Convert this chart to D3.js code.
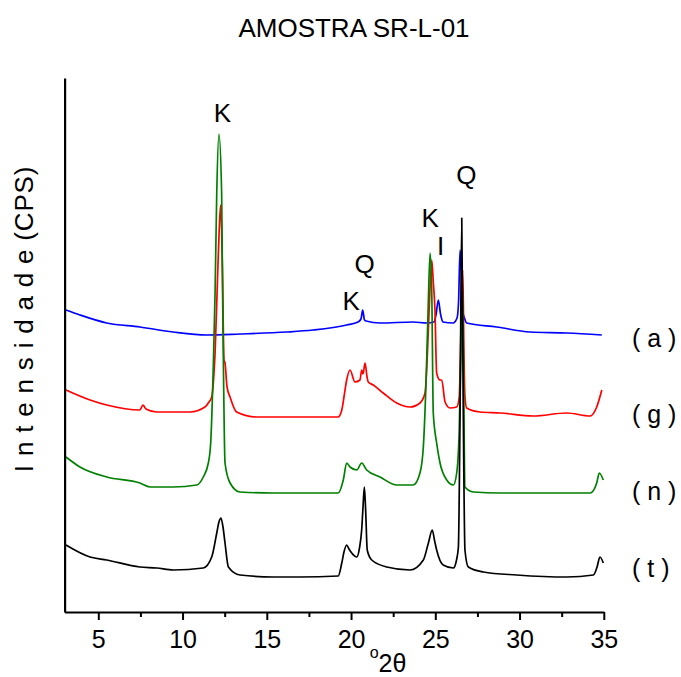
<!DOCTYPE html>
<html>
<head>
<meta charset="utf-8">
<script src="https://cdn.jsdelivr.net/npm/d3@7/dist/d3.min.js"></script>
<style>
  html, body { margin: 0; padding: 0; background: #fff; }
  svg { display: block; }
  text { font-family: "Liberation Sans", Arial, Helvetica, sans-serif; fill: #000; }
</style>
</head>
<body>
<svg id="chart" width="681" height="677"></svg>
<script>
// ---------- DATA (2θ in degrees, intensity in arbitrary CPS units incl. vertical offset) ----------
const aTheta = [3.08,3.91,5.50,7.47,9.43,11.43,13.41,16.18,17.74,19.74,20.41,20.59,20.69,20.80,20.89,21.72,23.68,24.49,24.92,25.04,25.18,25.31,25.46,26.05,26.29,26.38,26.47,26.55,26.64,26.73,26.86,28.64,30.62,32.80,34.88];
const aCounts = [302,297,289,285,280,277,278,280,282,287,290,293,302,292,291,289,290,289,290,297,312,298,290,289,294,310,362,340,300,294,289,285,280,279,277];

const gTheta = [3.08,4.51,5.50,7.47,7.65,7.83,8.47,10.44,11.33,11.57,11.73,11.87,11.93,12.05,12.17,12.26,12.37,12.46,12.52,12.64,12.82,13.21,14.40,16.38,19.23,19.45,19.58,19.74,19.94,20.23,20.53,20.63,20.71,20.83,20.95,21.02,21.32,21.91,22.71,23.50,24.09,24.39,24.51,24.63,24.79,24.88,24.98,25.08,25.28,25.38,25.58,25.87,26.27,26.42,26.52,26.63,26.70,26.76,26.86,27.65,28.84,30.82,32.80,34.19,34.58,34.88];
const gCounts = [222,212,207,202,207,203,200,200,205,210,215,240,259,320,380,407,340,252,249,225,215,200,195,195,195,202,215,232,242,230,232,242,238,249,235,230,227,219,209,205,209,219,250,300,352,330,302,239,232,232,210,204,205,215,280,342,260,215,204,200,199,196,199,196,205,222];

const nTheta = [3.08,3.91,5.50,7.47,8.07,9.45,10.84,11.23,11.53,11.67,11.83,11.93,12.03,12.16,12.32,12.37,12.43,12.52,12.82,13.41,15.39,19.24,19.54,19.74,19.94,20.34,20.63,20.93,21.72,22.71,23.69,24.09,24.29,24.45,24.57,24.69,24.79,24.88,25.08,25.28,25.68,26.07,26.27,26.42,26.52,26.60,26.67,26.76,27.26,28.84,32.80,34.19,34.58,34.73,34.97];
const nCounts = [155,145,135,129,125,125,127,135,149,169,249,319,419,478,419,330,240,149,129,120,119,119,132,149,145,142,149,142,135,127,127,139,165,230,300,359,320,199,169,149,132,127,139,182,260,330,250,125,120,119,119,119,129,139,132];

const tTheta = [3.08,4.51,5.50,7.47,8.47,9.45,11.23,11.73,12.03,12.16,12.28,12.40,12.52,12.72,13.41,15.39,16.97,19.24,19.45,19.58,19.74,19.88,20.04,20.34,20.51,20.63,20.71,20.79,20.87,20.96,21.23,22.12,23.50,24.29,24.59,24.82,24.95,25.08,25.47,26.07,26.26,26.37,26.47,26.57,26.66,26.76,26.96,27.85,29.83,32.80,34.38,34.60,34.77,34.97];
const tCounts = [67,55,52,45,44,42,44,55,79,90,94,85,69,45,37,35,35,36,49,60,67,63,59,55,65,82,105,125,100,62,52,45,42,52,69,82,72,62,47,44,52,65,200,394,200,62,45,40,37,35,37,45,55,49];

const seriesNames = ["( a )", "( g )", "( n )", "( t )"];
const seriesColors = ["#0000ff", "#ff0000", "#008000", "#000000"];

const majorTicks = [5, 10, 15, 20, 25, 30, 35];
const minorTicks = [7.5, 12.5, 17.5, 22.5, 27.5, 32.5];

const peakLabels = ["K", "Q", "K", "K", "I", "Q"];
const peakTheta  = [12.36, 20.80, 20.01, 24.69, 25.31, 26.84];

const titleText = "AMOSTRA SR-L-01";
const yTitle = "I n t e n s i d a d e (CPS)";

// ---------- LAYOUT ----------
const svg = d3.select("#chart");
const L = { left: 64.6, right: 603.8, top: 78, bottom: 612 };
const x = d3.scaleLinear().domain([3, 35]).range([L.left, L.right]);
const y = d3.scaleLinear().domain([0, 534]).range([L.bottom, L.top]);

const series = [
  { th: aTheta, v: aCounts },
  { th: gTheta, v: gCounts },
  { th: nTheta, v: nCounts },
  { th: tTheta, v: tCounts }
];

const line = d3.line()
  .x(d => x(d[0]))
  .y(d => y(d[1]))
  .curve(d3.curveMonotoneX);

series.forEach((s, i) => {
  const pts = s.th.map((t, k) => [t, s.v[k]]);
  svg.append("path")
    .attr("d", line(pts))
    .attr("fill", "none")
    .attr("stroke", seriesColors[i])
    .attr("stroke-width", 1.7)
    .attr("stroke-linejoin", "round");
});

// axes
const xAxis = d3.axisBottom(x).tickValues(majorTicks).tickSize(8).tickSizeOuter(0).tickPadding(10)
  .tickFormat(d3.format("d"));
const gx = svg.append("g").attr("transform", `translate(0,${L.bottom})`).call(xAxis);
gx.select(".domain").attr("stroke-width", 2.2);
gx.selectAll(".tick line").attr("stroke-width", 2);
gx.selectAll(".tick text").attr("font-size", 25).attr("font-family", '"Liberation Sans", Arial, sans-serif');

const xMinor = d3.axisBottom(x).tickValues(minorTicks).tickSize(5).tickFormat("");
const gxm = svg.append("g").attr("transform", `translate(0,${L.bottom})`).call(xMinor);
gxm.select(".domain").remove();
gxm.selectAll(".tick line").attr("stroke-width", 2);

const yAxis = d3.axisLeft(y).tickValues([]).tickSizeOuter(0);
const gy = svg.append("g").attr("transform", `translate(${L.left},0)`).call(yAxis);
gy.select(".domain").attr("stroke-width", 2.2);

// title
svg.append("text").attr("x", 354).attr("y", 37)
  .attr("text-anchor", "middle").attr("font-size", 26).text(titleText);

// y title
svg.append("text")
  .attr("transform", "translate(33,319) rotate(-90)")
  .attr("text-anchor", "middle").attr("font-size", 26)
  .attr("letter-spacing", 0.8).text(yTitle);

// x title: °2θ
const xt = svg.append("text").attr("x", 388).attr("y", 672).attr("text-anchor", "middle").attr("font-size", 25);
xt.append("tspan").attr("font-size", 16).attr("dy", -14).text("o");
xt.append("tspan").attr("dy", 14).text("2θ");

// series labels
const labelY = [347, 423, 500, 577];
seriesNames.forEach((n, i) => {
  svg.append("text").attr("x", 632).attr("y", labelY[i]).attr("font-size", 25).text(n);
});

// peak labels
const peakBase = [122, 273, 310, 227, 255, 184];
peakLabels.forEach((p, i) => {
  svg.append("text").attr("x", x(peakTheta[i])).attr("y", peakBase[i])
    .attr("text-anchor", "middle").attr("font-size", 26).text(p);
});
</script>
</body>
</html>
